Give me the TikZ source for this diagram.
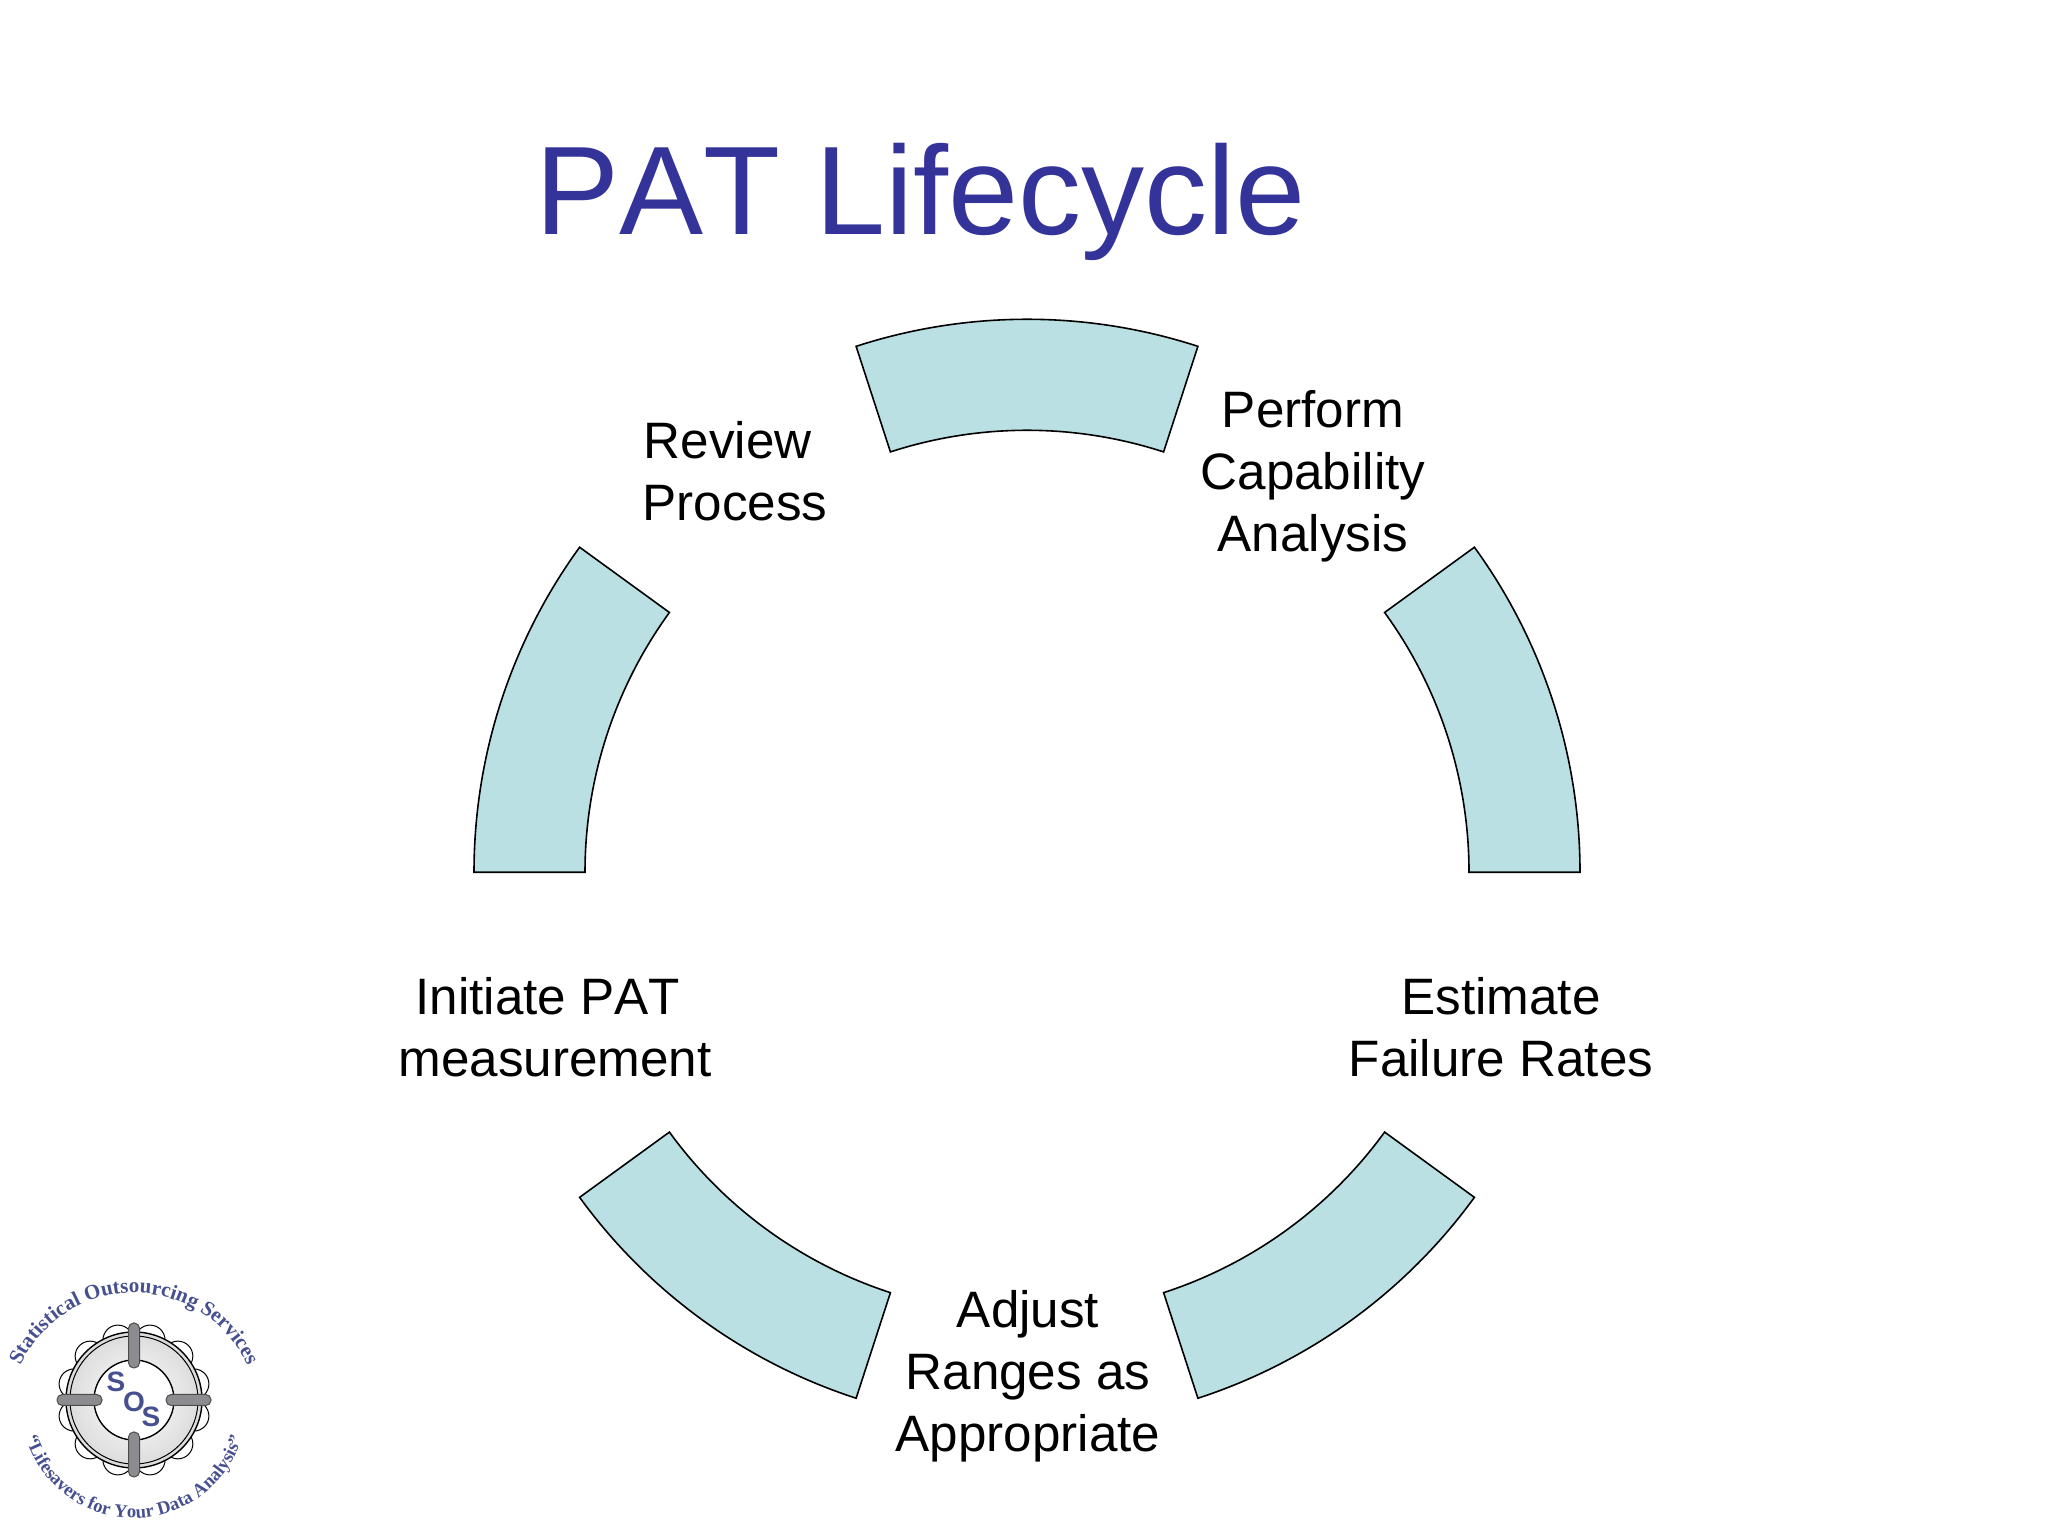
\documentclass[tikz,border=0pt]{standalone}
\usepackage{fontspec}
\setmainfont{Liberation Sans}[Kerning=Off]
\newfontfamily\logofont{Liberation Serif}
\usetikzlibrary{decorations.text}
\definecolor{pattitle}{HTML}{333399}
\definecolor{patfill}{HTML}{BAE0E3}
\definecolor{logoblue}{HTML}{46508F}
\definecolor{logobar}{HTML}{8C8C90}

\begin{document}
\begin{tikzpicture}[
  x=0.5pt,y=0.5pt,
  segment/.style={draw=black,fill=patfill,line width=0.8pt,line join=miter},
  label/.style={font=\fontsize{25.6}{31}\selectfont,align=center,text=black},
  bar/.style={draw=black!70,fill=logobar,line width=0.5pt,rounded corners=2.6pt,minimum width=5.5pt,minimum height=22.5pt,inner sep=0pt},
  sosletter/.style={font=\bfseries\fontsize{14}{14}\selectfont,text=logoblue,inner sep=0pt}
]
  \useasboundingbox (0,0) rectangle (2048,1534);
  \coordinate (hub) at (1027,661.7);

  \node[anchor=base,font=\fontsize{63}{70}\selectfont,text=pattitle] (title) at (921,1299) {PAT Lifecycle};

  % the five segments
  \foreach \a in {0,72,144,216,288}
    \draw[segment] ([shift={(\a:553)}]hub) arc[start angle=\a,delta angle=36,radius=553]
      -- ([shift={(\a+36:442)}]hub) arc[start angle=\a+36,delta angle=-36,radius=442] -- cycle;

  \node[label] (perform) at (1313,1058) {Perform\\Capability\\Analysis};
  \node[label] (review) at (735,1063) {\mbox{Review\ }\\Process};
  \node[label] (initiate) at (555,507) {\mbox{Initiate PAT\ }\\measurement};
  \node[label] (estimate) at (1501,507) {Estimate\\Failure Rates};
  \node[label] (adjust) at (1028,158) {Adjust\\Ranges as\\Appropriate};

  % logo
  \coordinate (ring) at (134,134);
  \foreach \a in {15,45,...,345}
    \draw[black,fill=white,line width=0.5pt] ([shift={(\a:62)}]ring) circle[radius=15];
  \draw[black,line width=0.7pt,inner color=white,outer color=black!14] (ring) circle[radius=68];
  \draw[black,line width=0.5pt] (ring) circle[radius=64];
  \draw[black,line width=0.7pt,fill=white] (ring) circle[radius=40];
  \node[bar] (bartop) at ([shift={(0,54.5)}]ring) {};
  \node[bar] (barbot) at ([shift={(0,-54.5)}]ring) {};
  \node[bar,rotate=90] (barleft) at ([shift={(-54.5,0)}]ring) {};
  \node[bar,rotate=90] (barright) at ([shift={(54.5,0)}]ring) {};
  \node[sosletter] (sosa) at ([shift={(-18,18)}]ring) {S};
  \node[sosletter] (sosb) at ([shift={(0,-2)}]ring) {O};
  \node[sosletter] (sosc) at ([shift={(17,-17)}]ring) {S};
  \path[decorate,decoration={text along path,text align=center,
      text={|\logofont\bfseries\fontsize{10.5}{10.5}\selectfont\color{logoblue}|Statistical Outsourcing Services}}]
    ([shift={(160:125)}]134,116) arc[start angle=160,end angle=20,radius=125];
  \path[decorate,decoration={text along path,text align=center,
      text={|\logofont\bfseries\fontsize{9.3}{9.3}\selectfont\color{logoblue}|“Lifesavers for Your Data Analysis”}}]
    ([shift={(198:113)}]134,129) arc[start angle=198,end angle=342,radius=113];
\end{tikzpicture}
\end{document}
